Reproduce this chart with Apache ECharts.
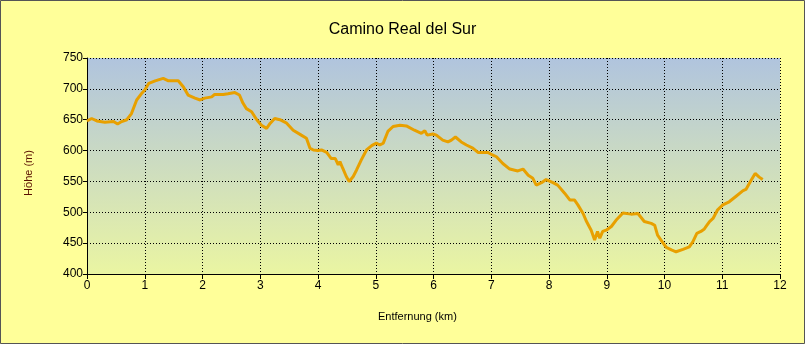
<!DOCTYPE html>
<html><head><meta charset="utf-8">
<script src="https://cdn.jsdelivr.net/npm/echarts@6/dist/echarts.min.js"></script>
<style>html,body{margin:0;padding:0;background:#ffff99}#c{width:805px;height:344px}</style>
</head><body><div id="c"></div>
<script>
const titleText = "Camino Real del Sur";
const xAxisName = "Entfernung (km)";
const yAxisName = "Höhe (m)";
const distKm = [0,0.08,0.17,0.31,0.46,0.53,0.60,0.69,0.77,0.86,0.95,1.0,1.07,1.18,1.32,1.41,1.58,1.67,1.75,1.87,1.96,2.04,2.16,2.21,2.36,2.44,2.56,2.64,2.70,2.76,2.85,2.94,3.02,3.11,3.17,3.25,3.34,3.45,3.57,3.71,3.80,3.86,3.92,4.00,4.06,4.15,4.23,4.30,4.35,4.38,4.43,4.49,4.54,4.61,4.67,4.75,4.84,4.93,5.01,5.07,5.13,5.21,5.30,5.42,5.53,5.67,5.79,5.85,5.89,5.99,6.05,6.16,6.25,6.31,6.38,6.48,6.57,6.68,6.77,6.86,6.94,7.00,7.09,7.20,7.32,7.46,7.55,7.64,7.72,7.78,7.87,7.95,8.07,8.15,8.27,8.36,8.44,8.50,8.59,8.65,8.73,8.79,8.84,8.88,8.93,8.99,9.08,9.16,9.28,9.42,9.54,9.65,9.77,9.83,9.88,9.94,10.03,10.12,10.20,10.32,10.43,10.49,10.56,10.63,10.69,10.72,10.78,10.84,10.92,11.01,11.12,11.24,11.36,11.41,11.50,11.57,11.64,11.70];
const elevM = [648,652,648,646,647,643,647,650,660,682,693,698,709,713,717,713,713,703,690,685,682,685,687,691,691,692,694,690,677,668,663,650,641,636,644,652,650,645,633,625,620,604,601,600,601,597,587,587,577,582,571,558,550,558,569,585,601,608,612,609,612,631,639,641,640,633,628,632,625,627,625,617,614,617,622,614,609,604,597,597,597,594,590,579,570,567,570,560,555,544,548,553,548,544,531,520,520,512,498,485,471,455,469,458,469,471,477,487,499,497,498,485,482,479,463,455,443,439,436,440,444,452,466,469,473,477,485,490,504,512,517,526,535,537,552,563,557,553];
const xTicks = {min:0, max:12, interval:1};
const yTicks = {min:400, max:750, interval:50};

const profile = distKm.map((d,i)=>[d, elevM[i]]);
const chart = echarts.init(document.getElementById('c'), null, {renderer:'canvas'});
const font = "'Liberation Sans', Arial, sans-serif";
chart.setOption({
  backgroundColor: '#ffff99',
  animation: false,
  title: {text: titleText, left: 'center', top: 17, textStyle:{fontFamily:font, fontSize:16, fontWeight:'normal', color:'#000'}},
  grid: {left:87, right:25, top:58, bottom:70, show:true, borderWidth:0,
    backgroundColor: new echarts.graphic.LinearGradient(0,0,0,1,[{offset:0,color:'#b0c4de'},{offset:1,color:'#eaf5a2'}])},
  xAxis: {type:'value', min:xTicks.min, max:xTicks.max, interval:xTicks.interval,
    axisLine:{show:true, onZero:false, lineStyle:{color:'#000', width:1}},
    axisTick:{show:true, length:5, lineStyle:{color:'#000'}},
    axisLabel:{fontFamily:font, fontSize:12, color:'#000', margin:6},
    splitLine:{show:true, lineStyle:{color:'#000', type:[1,2], width:1}}},
  yAxis: {type:'value', min:yTicks.min, max:yTicks.max, interval:yTicks.interval,
    axisLine:{show:true, lineStyle:{color:'#000', width:1}},
    axisTick:{show:true, length:4, lineStyle:{color:'#000'}},
    axisLabel:{fontFamily:font, fontSize:12, color:'#000', margin:4},
    splitLine:{show:true, lineStyle:{color:'#000', type:[1,2], width:1}}},
  series: [{type:'line', data: profile, showSymbol:false, smooth:false,
    lineStyle:{color:'#e8a000', width:3}, itemStyle:{color:'#e8a000'}}],
  graphic: [
    {type:'text', left:378, top:311, style:{text:xAxisName, font:"11px "+font, fill:'#000'}},
    {type:'text', x:23, y:173, rotation:Math.PI/2, style:{text:yAxisName, font:"11px "+font, fill:'#5a1000', align:'center', verticalAlign:'top'}},
    {type:'rect', shape:{x:0.5,y:0.5,width:804,height:343}, style:{fill:null, stroke:'#555', lineWidth:1}, silent:true}
  ]
});
</script></body></html>
